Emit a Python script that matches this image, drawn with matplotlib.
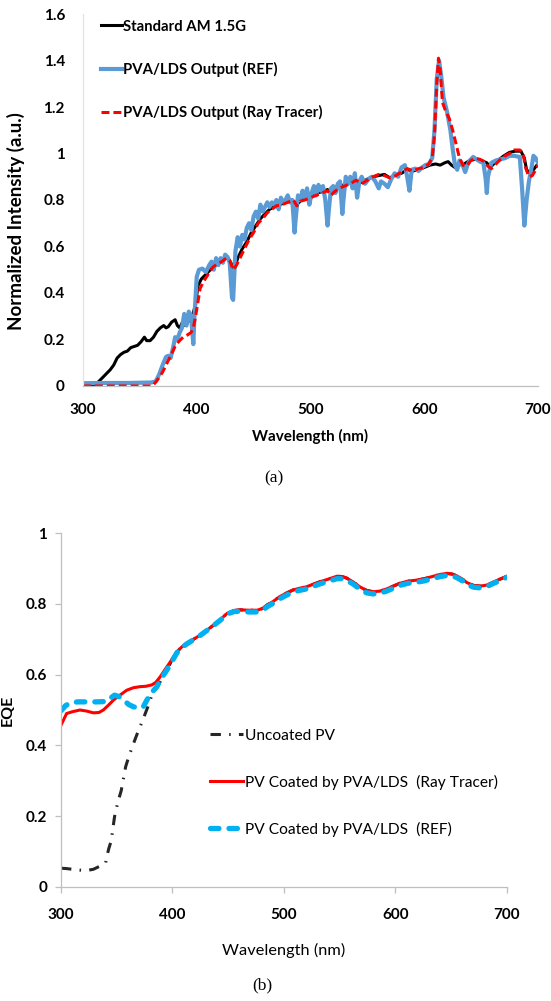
#!/usr/bin/env python3
"""Two-panel spectrum / EQE figure: LDS layer output (a) and coated PV EQE (b)."""

import matplotlib

matplotlib.use("Agg")
import matplotlib.pyplot as plt

plt.rcParams["font.family"] = ["Lato", "DejaVu Sans"]

# ---- panel (a): normalized intensity -------------------------------------
AM15_WL = [300, 308, 312, 316, 320, 324, 327, 330, 333, 336, 339, 342, 345, 348, 351,
           354, 356, 359, 362, 365, 368, 371, 373, 375, 378, 381, 383, 385, 387, 390,
           393, 396, 399, 401, 404, 408, 412, 416, 420, 424, 427, 430, 433, 436, 440,
           444, 448, 452, 456, 460, 464, 468, 472, 476, 480, 484, 488, 492, 496, 500,
           505, 510, 515, 518, 521, 525, 530, 535, 540, 545, 550, 555, 560, 565, 570,
           575, 580, 585, 590, 595, 600, 605, 610, 614, 618, 621, 624, 627, 630, 635,
           640, 645, 650, 655, 658, 662, 666, 670, 675, 680, 685, 688, 690, 693, 696, 699]
AM15_VAL = [0, 0, 0.01, 0.03, 0.05, 0.07, 0.09, 0.12, 0.135, 0.145, 0.15, 0.165, 0.17, 0.175, 0.19,
            0.21, 0.195, 0.195, 0.21, 0.235, 0.25, 0.26, 0.25, 0.255, 0.275, 0.285, 0.26, 0.25, 0.27, 0.26,
            0.28, 0.30, 0.35, 0.43, 0.46, 0.48, 0.50, 0.52, 0.535, 0.55, 0.555, 0.53, 0.50, 0.55, 0.59,
            0.62, 0.66, 0.69, 0.72, 0.74, 0.76, 0.77, 0.78, 0.785, 0.795, 0.80, 0.78, 0.80, 0.815, 0.82,
            0.83, 0.835, 0.845, 0.83, 0.85, 0.86, 0.865, 0.875, 0.88, 0.875, 0.89, 0.90, 0.905, 0.91, 0.895,
            0.91, 0.915, 0.93, 0.925, 0.93, 0.94, 0.95, 0.955, 0.95, 0.96, 0.965, 0.95, 0.94, 0.95, 0.955,
            0.97, 0.975, 0.97, 0.96, 0.94, 0.96, 0.975, 0.99, 1.005, 1.01, 1.01, 0.98, 0.93, 0.915, 0.93, 0.95]

REF_WL = [300, 320, 340, 360, 364, 367, 370, 373, 375, 377, 379, 381, 383, 385, 387,
          389, 391, 393, 395, 397, 398, 400, 402, 405, 408, 411, 413, 415, 417, 419,
          421, 423, 425, 427, 429, 431, 432, 434, 436, 438, 440, 442, 444, 446, 448,
          450, 452, 454, 456, 458, 460, 462, 464, 466, 468, 470, 472, 474, 476, 478,
          480, 482, 484, 486, 487, 489, 491, 493, 495, 497, 499, 501, 503, 505, 507,
          509, 511, 513, 515, 516, 518, 520, 522, 524, 526, 528, 529, 531, 533, 535,
          537, 539, 541, 543, 545, 548, 551, 554, 557, 560, 562, 565, 568, 571, 574,
          577, 580, 583, 585, 587, 589, 592, 595, 598, 601, 604, 607, 609, 611, 613,
          615, 617, 620, 623, 625, 627, 629, 631, 633, 636, 638, 640, 643, 646, 649,
          652, 654, 655, 656, 659, 663, 667, 671, 675, 679, 684, 686, 688, 690, 692,
          694, 696, 698, 700]
REF_VAL = [0.012, 0.013, 0.013, 0.015, 0.02, 0.05, 0.09, 0.125, 0.13, 0.12, 0.16, 0.21, 0.20, 0.23, 0.25,
           0.31, 0.26, 0.32, 0.30, 0.18, 0.30, 0.47, 0.50, 0.505, 0.49, 0.52, 0.535, 0.50, 0.55, 0.52,
           0.55, 0.53, 0.565, 0.555, 0.53, 0.38, 0.37, 0.58, 0.64, 0.60, 0.65, 0.63, 0.68, 0.70, 0.67,
           0.73, 0.75, 0.72, 0.78, 0.75, 0.77, 0.79, 0.77, 0.79, 0.78, 0.80, 0.76, 0.81, 0.79, 0.80,
           0.82, 0.79, 0.80, 0.66, 0.72, 0.82, 0.80, 0.84, 0.81, 0.85, 0.78, 0.83, 0.86, 0.82, 0.865,
           0.84, 0.86, 0.80, 0.69, 0.75, 0.85, 0.86, 0.83, 0.87, 0.88, 0.74, 0.80, 0.90, 0.87, 0.90,
           0.85, 0.915, 0.81, 0.88, 0.90, 0.87, 0.89, 0.90, 0.88, 0.85, 0.88, 0.87, 0.855, 0.89, 0.915,
           0.90, 0.94, 0.95, 0.90, 0.84, 0.93, 0.935, 0.925, 0.94, 0.95, 0.955, 0.98, 1.10, 1.32, 1.40,
           1.33, 1.24, 1.18, 1.10, 1.02, 0.95, 0.93, 0.97, 0.96, 0.92, 0.95, 0.97, 0.985, 0.975, 0.965,
           0.96, 0.89, 0.83, 0.90, 0.96, 0.97, 0.975, 0.98, 0.99, 0.99, 0.985, 0.85, 0.69, 0.80, 0.88,
           0.93, 0.99, 0.98, 0.96]

RT_WL = [300, 340, 360, 362, 366, 370, 374, 378, 381, 384, 388, 392, 395, 397, 399,
         401, 403, 406, 410, 414, 418, 422, 426, 429, 432, 435, 438, 442, 446, 450,
         454, 458, 462, 466, 470, 475, 480, 485, 488, 491, 495, 500, 505, 510, 515,
         518, 521, 525, 530, 535, 540, 545, 550, 555, 560, 565, 570, 575, 580, 585,
         590, 595, 600, 604, 607, 609, 611, 612.5, 614, 616, 619, 622, 625, 628, 631,
         634, 637, 641, 645, 649, 653, 656, 659, 663, 667, 671, 675, 679, 684, 687,
         689, 692, 695, 698, 700]
RT_VAL = [0, 0, 0, 0.005, 0.03, 0.06, 0.10, 0.14, 0.17, 0.19, 0.21, 0.22, 0.23, 0.25, 0.30,
          0.36, 0.42, 0.45, 0.48, 0.51, 0.525, 0.535, 0.55, 0.54, 0.50, 0.52, 0.55, 0.59, 0.63, 0.66,
          0.70, 0.72, 0.745, 0.76, 0.775, 0.78, 0.79, 0.80, 0.775, 0.795, 0.80, 0.81, 0.82, 0.83, 0.84,
          0.82, 0.835, 0.85, 0.86, 0.87, 0.885, 0.87, 0.885, 0.90, 0.91, 0.905, 0.895, 0.905, 0.92, 0.935,
          0.925, 0.935, 0.94, 0.955, 0.98, 1.08, 1.30, 1.41, 1.36, 1.22, 1.18, 1.15, 1.10, 1.04, 0.98,
          0.95, 0.945, 0.97, 0.98, 0.975, 0.965, 0.945, 0.935, 0.955, 0.975, 0.99, 1.0, 1.015, 1.015, 1.0,
          0.94, 0.90, 0.905, 0.93, 0.95]

# ---- panel (b): EQE ---------------------------------------------------------
UNCOATED_WL = [300, 305, 310, 316, 322, 329, 335, 340, 341, 343, 345, 348, 351, 354, 358,
               361, 365, 368, 371, 374, 378, 381, 385, 389, 393, 397, 400, 404, 409, 413,
               419, 425, 431, 437, 443, 449, 455, 461, 468, 476, 481, 485, 490, 496, 502,
               508, 514, 520, 526, 532, 540, 547.5, 552, 556, 562, 568, 574, 580, 586, 592,
               598, 604, 611, 619, 626, 634, 640, 646, 651, 655, 660, 664, 670, 676, 682,
               688, 694, 700]
UNCOATED_VAL = [0.053, 0.052, 0.05, 0.048, 0.046, 0.05, 0.059, 0.067, 0.085, 0.11, 0.13, 0.198, 0.24, 0.272, 0.34,
                0.37, 0.405, 0.43, 0.453, 0.477, 0.51, 0.537, 0.56, 0.58, 0.605, 0.625, 0.645, 0.665, 0.68, 0.689,
                0.70, 0.712, 0.726, 0.74, 0.756, 0.773, 0.781, 0.783, 0.782, 0.782, 0.787, 0.797, 0.806, 0.82, 0.83,
                0.839, 0.844, 0.848, 0.855, 0.862, 0.87, 0.878, 0.877, 0.873, 0.862, 0.848, 0.838, 0.834, 0.836, 0.842,
                0.85, 0.858, 0.864, 0.867, 0.871, 0.878, 0.883, 0.886, 0.884, 0.879, 0.87, 0.86, 0.852, 0.85, 0.853,
                0.862, 0.87, 0.878]

COATED_RT_WL = [300, 305, 310, 317, 323, 329, 334, 338, 343, 347, 352, 359, 365, 371, 376,
                381.5, 385, 389, 395, 400, 404, 409, 413, 419, 425, 431, 437, 443, 449, 455,
                461, 468, 476, 481, 485, 490, 496, 502, 508, 514, 520, 526, 532, 540, 547.5,
                552, 556, 562, 568, 574, 580, 586, 592, 598, 604, 611, 619, 626, 634, 640,
                646, 651, 655, 660, 664, 670, 676, 682, 688, 694, 700]
COATED_RT_VAL = [0.457, 0.49, 0.495, 0.50, 0.497, 0.492, 0.493, 0.50, 0.515, 0.528, 0.54, 0.556, 0.563, 0.566, 0.567,
                 0.571, 0.578, 0.594, 0.622, 0.645, 0.665, 0.68, 0.689, 0.70, 0.712, 0.726, 0.74, 0.756, 0.773, 0.781,
                 0.783, 0.782, 0.782, 0.787, 0.797, 0.806, 0.82, 0.83, 0.839, 0.844, 0.848, 0.855, 0.862, 0.87, 0.878,
                 0.877, 0.873, 0.862, 0.848, 0.838, 0.834, 0.836, 0.842, 0.85, 0.858, 0.864, 0.867, 0.871, 0.878, 0.883,
                 0.886, 0.884, 0.879, 0.87, 0.86, 0.852, 0.85, 0.853, 0.862, 0.87, 0.878]

COATED_REF_WL = [300, 304, 308, 315, 323, 332, 341, 345, 348, 352, 356, 361, 365, 371, 374,
                 377, 381, 386, 390, 395, 400, 404, 409, 413, 419, 425, 431, 437, 443, 449,
                 455, 461, 468, 476, 481, 485, 490, 496, 502, 508, 514, 520, 526, 532, 540,
                 547.5, 552, 556, 562, 568, 574, 580, 586, 592, 598, 604, 611, 619, 626, 634,
                 640, 646, 651, 655, 660, 664, 670, 676, 682, 688, 694, 700]
COATED_REF_VAL = [0.498, 0.512, 0.52, 0.523, 0.523, 0.523, 0.524, 0.535, 0.542, 0.538, 0.528, 0.515, 0.509, 0.505, 0.51,
                  0.528, 0.548, 0.566, 0.59, 0.613, 0.64, 0.662, 0.678, 0.687, 0.699, 0.711, 0.725, 0.739, 0.754, 0.771,
                  0.778, 0.779, 0.777, 0.777, 0.782, 0.792, 0.801, 0.814, 0.824, 0.833, 0.838, 0.842, 0.849, 0.856, 0.864,
                  0.871, 0.871, 0.867, 0.856, 0.842, 0.831, 0.828, 0.830, 0.836, 0.844, 0.852, 0.858, 0.861, 0.865, 0.872,
                  0.877, 0.880, 0.879, 0.874, 0.865, 0.855, 0.847, 0.845, 0.849, 0.858, 0.866, 0.875]

X_TICKS = [300, 400, 500, 600, 700]
A_Y_TICKS = [0, 0.2, 0.4, 0.6, 0.8, 1, 1.2, 1.4, 1.6]
B_Y_TICKS = [0, 0.2, 0.4, 0.6, 0.8, 1]

AXIS_GREY = "#bfbfbf"


def fmt(v):
    return "0" if v == 0 else ("1" if v == 1 else f"{v:g}")


def style_axes(ax, ticklen):
    for side in ("top", "right"):
        ax.spines[side].set_visible(False)
    for side in ("left", "bottom"):
        ax.spines[side].set_color(AXIS_GREY)
        ax.spines[side].set_linewidth(0.9)
    ax.tick_params(axis="both", colors=AXIS_GREY, length=ticklen, width=0.9,
                   labelcolor="black", labelsize=11)
    for lab in ax.get_xticklabels() + ax.get_yticklabels():
        lab.set_fontweight("bold")


fig = plt.figure(figsize=(5.51, 10.01), dpi=100)

# panel (a)
ax1 = fig.add_axes([0.1506, 0.6144, 0.8258, 0.3716])
ax1.plot(AM15_WL, AM15_VAL, color="black", lw=2.2, label="Standard AM 1.5G")
ax1.plot(REF_WL, REF_VAL, color="#5b9bd5", lw=3.0, label="PVA/LDS Output (REF)")
ax1.plot(RT_WL, RT_VAL, color="#ff0000", lw=2.2, linestyle=(0, (2.6, 1.3)),
         label="PVA/LDS Output (Ray Tracer)")
ax1.set_xlim(300, 700)
ax1.set_ylim(0, 1.6)
ax1.set_xticks(X_TICKS)
ax1.set_yticks(A_Y_TICKS, [fmt(v) for v in A_Y_TICKS])
ax1.tick_params(axis="x", pad=12)
ax1.tick_params(axis="y", pad=13)
style_axes(ax1, 0)
ax1.spines["left"].set_color("#e3e3e3")
ax1.set_xlabel("Wavelength (nm)", fontsize=11, fontweight="bold", labelpad=9)
ax1.set_ylabel("Normalized Intensity (a.u.)", fontsize=13.5, fontweight="bold")
ax1.yaxis.set_label_coords(-0.127, 0.444)
ax1.legend(loc="upper left", bbox_to_anchor=(0.04, 0.985), frameon=False,
           prop={"weight": "bold", "size": 10.7}, handlelength=1.4, handletextpad=0.1,
           labelspacing=1.9, borderpad=0, borderaxespad=0)
fig.text(0.497, 0.522, "(a)", family="Liberation Serif", fontsize=12.5, ha="center", va="center")

# panel (b)
ax2 = fig.add_axes([0.1107, 0.1139, 0.8094, 0.3536])
ax2.plot(UNCOATED_WL, UNCOATED_VAL, color="#262626", lw=2.2,
         linestyle=(0, (3.4, 2.7, 0.5, 2.7)), label="Uncoated PV")
ax2.plot(COATED_RT_WL, COATED_RT_VAL, color="#ff0000", lw=2.2,
         label="PV Coated by PVA/LDS  (Ray Tracer)")
ax2.plot(COATED_REF_WL, COATED_REF_VAL, color="#00b0f0", lw=3.8,
         linestyle=(0, (1.6, 1.9)), dash_capstyle="round",
         label="PV Coated by PVA/LDS  (REF)")
ax2.set_xlim(300, 700)
ax2.set_ylim(0, 1)
ax2.set_xticks(X_TICKS)
ax2.set_yticks(B_Y_TICKS, [fmt(v) for v in B_Y_TICKS])
ax2.tick_params(axis="x", pad=11)
ax2.tick_params(axis="y", pad=6)
style_axes(ax2, 4)
ax2.set_xlabel("Wavelength (nm)", fontsize=11.8, labelpad=15)
ax2.set_ylabel("EQE", fontsize=11.5, fontweight="bold", labelpad=8)
ax2.legend(loc="upper left", bbox_to_anchor=(0.335, 0.447), frameon=False,
           prop={"size": 11.2}, handlelength=2.1, handletextpad=0.1,
           labelspacing=2.05, borderpad=0, borderaxespad=0)
fig.text(0.476, 0.016, "(b)", family="Liberation Serif", fontsize=12.5, ha="center", va="center")

fig.savefig("out.png", dpi=100)
